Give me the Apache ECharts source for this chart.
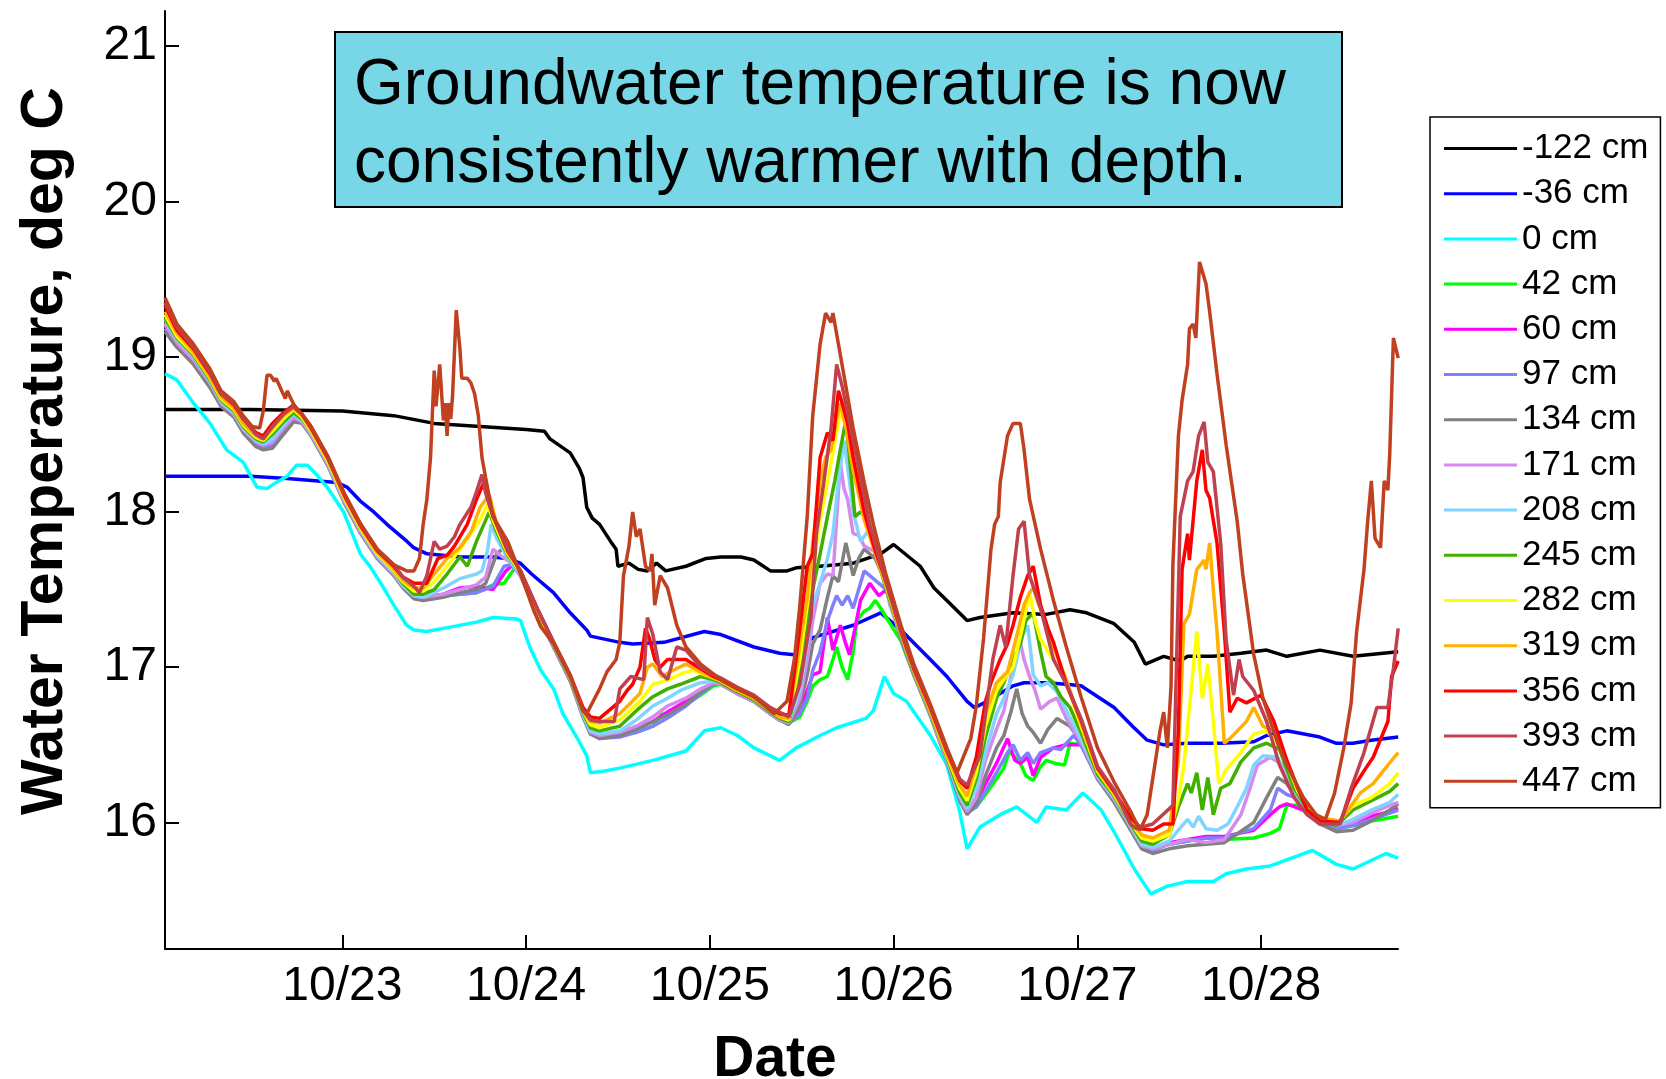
<!DOCTYPE html>
<html>
<head>
<meta charset="utf-8">
<title>Groundwater temperature by depth</title>
<script src="https://cdn.jsdelivr.net/npm/echarts@6/dist/echarts.min.js"></script>
<style>
  html, body { margin: 0; padding: 0; background: #ffffff; }
  #chart { width: 1666px; height: 1079px; }
</style>
</head>
<body>
<div id="chart"></div>
<script>
// Logger depths (cm) and tick labels
const depthNames = ['-122 cm', '-36 cm', '0 cm', '42 cm', '60 cm', '97 cm', '134 cm', '171 cm',
  '208 cm', '245 cm', '282 cm', '319 cm', '356 cm', '393 cm', '447 cm'];
const dayTicks = [1, 2, 3, 4, 5, 6];
const dayLabels = ['10/23', '10/24', '10/25', '10/26', '10/27', '10/28'];
const tempTicks = [16, 17, 18, 19, 20, 21];

// Water temperature records: [days since 10/22 00:00, deg C]
const tempM122 = [[0.035,18.66],[0.5,18.66],[1.0,18.65],[1.28,18.62],[1.5,18.57],[1.75,18.55],[2.0,18.53],[2.1,18.52],[2.13,18.47],[2.24,18.38],[2.29,18.28],[2.31,18.22],[2.33,18.03],[2.36,17.96],[2.40,17.92],[2.46,17.81],[2.49,17.76],[2.50,17.65],[2.56,17.67],[2.61,17.63],[2.66,17.62],[2.71,17.67],[2.76,17.62],[2.87,17.65],[2.98,17.70],[3.06,17.71],[3.17,17.71],[3.24,17.69],[3.33,17.62],[3.42,17.62],[3.47,17.64],[3.6,17.65],[3.78,17.67],[3.93,17.73],[4.0,17.79],[4.145,17.65],[4.22,17.51],[4.29,17.43],[4.40,17.30],[4.47,17.32],[4.65,17.35],[4.83,17.34],[4.96,17.37],[5.05,17.35],[5.2,17.28],[5.31,17.16],[5.37,17.02],[5.47,17.07],[5.56,17.04],[5.6,17.07],[5.74,17.07],[5.89,17.09],[6.03,17.11],[6.14,17.07],[6.32,17.11],[6.5,17.07],[6.746,17.10]];

const tempM36 = [[0.035,18.23],[0.5,18.23],[0.7,18.215],[0.97,18.19],[1.025,18.16],[1.098,18.07],[1.171,18.00],[1.243,17.92],[1.352,17.81],[1.388,17.77],[1.461,17.73],[1.642,17.71],[1.82,17.71],[1.897,17.70],[1.969,17.67],[2.03,17.60],[2.149,17.48],[2.24,17.35],[2.33,17.24],[2.35,17.20],[2.51,17.16],[2.58,17.15],[2.75,17.16],[2.97,17.23],[3.06,17.21],[3.24,17.13],[3.38,17.09],[3.46,17.08],[3.56,17.19],[3.78,17.27],[3.93,17.35],[4.04,17.24],[4.2,17.05],[4.29,16.94],[4.40,16.78],[4.44,16.74],[4.51,16.78],[4.65,16.88],[4.71,16.90],[4.83,16.90],[4.94,16.89],[5.02,16.88],[5.2,16.74],[5.30,16.62],[5.38,16.53],[5.47,16.50],[5.6,16.51],[5.78,16.51],[5.96,16.52],[6.03,16.56],[6.14,16.59],[6.32,16.55],[6.41,16.51],[6.5,16.51],[6.6,16.53],[6.746,16.55]];

const temp0 = [[0.035,18.89],[0.10,18.85],[0.19,18.70],[0.28,18.57],[0.37,18.40],[0.46,18.32],[0.535,18.16],[0.59,18.15],[0.64,18.19],[0.70,18.23],[0.75,18.30],[0.81,18.30],[0.86,18.24],[0.917,18.16],[1.007,18.00],[1.098,17.73],[1.15,17.65],[1.21,17.54],[1.28,17.40],[1.35,17.27],[1.39,17.24],[1.46,17.23],[1.55,17.25],[1.73,17.29],[1.82,17.32],[1.95,17.31],[1.97,17.30],[2.02,17.13],[2.08,16.98],[2.15,16.86],[2.20,16.70],[2.28,16.54],[2.33,16.43],[2.35,16.32],[2.42,16.33],[2.51,16.35],[2.69,16.40],[2.87,16.46],[2.97,16.59],[3.06,16.61],[3.15,16.56],[3.24,16.48],[3.38,16.40],[3.47,16.48],[3.60,16.56],[3.69,16.61],[3.85,16.67],[3.89,16.72],[3.95,16.94],[4.0,16.83],[4.07,16.78],[4.2,16.56],[4.29,16.37],[4.36,16.07],[4.40,15.83],[4.47,15.97],[4.58,16.05],[4.67,16.10],[4.78,16.00],[4.83,16.10],[4.94,16.08],[5.03,16.19],[5.13,16.08],[5.2,15.94],[5.31,15.70],[5.40,15.54],[5.49,15.59],[5.60,15.62],[5.74,15.62],[5.81,15.67],[5.92,15.70],[6.05,15.72],[6.28,15.82],[6.41,15.73],[6.5,15.70],[6.68,15.80],[6.746,15.77]];

const temp42 = [[0.035,19.22],[0.10,19.10],[0.19,18.99],[0.28,18.84],[0.34,18.71],[0.41,18.64],[0.46,18.54],[0.53,18.45],[0.57,18.43],[0.62,18.45],[0.68,18.54],[0.735,18.62],[0.78,18.59],[0.83,18.51],[0.92,18.32],[1.01,18.08],[1.10,17.88],[1.19,17.72],[1.28,17.61],[1.33,17.53],[1.39,17.46],[1.44,17.45],[1.55,17.46],[1.64,17.47],[1.73,17.48],[1.82,17.53],[1.88,17.54],[1.91,17.59],[1.94,17.64],[1.97,17.59],[2.06,17.35],[2.15,17.13],[2.24,16.92],[2.31,16.68],[2.35,16.57],[2.40,16.55],[2.51,16.56],[2.60,16.58],[2.69,16.62],[2.74,16.70],[2.78,16.68],[2.87,16.76],[2.95,16.82],[3.02,16.88],[3.06,16.89],[3.15,16.83],[3.24,16.78],[3.33,16.70],[3.38,16.66],[3.43,16.64],[3.49,16.68],[3.53,16.78],[3.56,16.88],[3.60,16.92],[3.64,16.94],[3.67,17.05],[3.69,17.13],[3.72,17.00],[3.75,16.92],[3.78,17.10],[3.80,17.30],[3.84,17.36],[3.87,17.38],[3.90,17.43],[3.93,17.38],[3.96,17.32],[4.04,17.17],[4.11,16.95],[4.20,16.69],[4.29,16.40],[4.36,16.16],[4.40,16.08],[4.45,16.10],[4.50,16.18],[4.56,16.28],[4.60,16.35],[4.63,16.46],[4.66,16.42],[4.69,16.38],[4.72,16.30],[4.76,16.27],[4.80,16.36],[4.83,16.40],[4.88,16.38],[4.93,16.37],[4.96,16.51],[5.02,16.50],[5.11,16.29],[5.20,16.15],[5.29,15.97],[5.35,15.86],[5.41,15.83],[5.50,15.86],[5.60,15.88],[5.70,15.90],[5.80,15.89],[5.96,15.90],[6.05,15.93],[6.10,15.96],[6.14,16.11],[6.25,16.11],[6.32,16.02],[6.41,15.96],[6.50,15.98],[6.60,16.01],[6.70,16.03],[6.746,16.04]];

const temp60 = [[0.035,19.20],[0.10,19.08],[0.19,18.98],[0.28,18.83],[0.34,18.70],[0.41,18.63],[0.46,18.53],[0.53,18.45],[0.57,18.43],[0.62,18.44],[0.68,18.53],[0.735,18.61],[0.78,18.58],[0.83,18.50],[0.92,18.31],[1.01,18.07],[1.10,17.87],[1.19,17.72],[1.28,17.60],[1.33,17.53],[1.39,17.46],[1.44,17.45],[1.55,17.47],[1.64,17.51],[1.73,17.52],[1.82,17.50],[1.89,17.62],[1.93,17.66],[1.97,17.59],[2.06,17.35],[2.15,17.13],[2.24,16.92],[2.31,16.70],[2.35,16.59],[2.40,16.55],[2.51,16.57],[2.60,16.60],[2.69,16.65],[2.78,16.72],[2.87,16.78],[2.95,16.85],[3.02,16.90],[3.06,16.89],[3.15,16.83],[3.24,16.78],[3.33,16.70],[3.38,16.66],[3.43,16.64],[3.49,16.72],[3.53,16.85],[3.56,16.95],[3.60,16.97],[3.64,17.32],[3.67,17.11],[3.71,17.27],[3.74,17.15],[3.76,17.08],[3.79,17.25],[3.82,17.43],[3.87,17.54],[3.92,17.46],[3.96,17.50],[4.04,17.19],[4.11,16.96],[4.20,16.70],[4.29,16.40],[4.36,16.16],[4.40,16.07],[4.45,16.12],[4.50,16.25],[4.56,16.38],[4.62,16.54],[4.66,16.40],[4.69,16.38],[4.73,16.42],[4.76,16.30],[4.80,16.42],[4.87,16.48],[4.94,16.50],[5.02,16.50],[5.11,16.29],[5.20,16.15],[5.29,15.97],[5.35,15.86],[5.41,15.84],[5.50,15.87],[5.60,15.89],[5.70,15.91],[5.80,15.91],[5.96,15.95],[6.05,16.05],[6.10,16.10],[6.14,16.12],[6.25,16.07],[6.32,16.01],[6.41,15.97],[6.50,15.99],[6.60,16.04],[6.70,16.07],[6.746,16.09]];

const temp97 = [[0.035,19.18],[0.10,19.08],[0.19,18.97],[0.28,18.82],[0.34,18.70],[0.41,18.62],[0.46,18.52],[0.53,18.44],[0.57,18.42],[0.62,18.43],[0.68,18.52],[0.735,18.60],[0.78,18.58],[0.83,18.50],[0.92,18.31],[1.01,18.07],[1.10,17.87],[1.19,17.71],[1.28,17.60],[1.33,17.52],[1.39,17.45],[1.44,17.44],[1.55,17.46],[1.64,17.47],[1.73,17.48],[1.82,17.52],[1.88,17.65],[1.92,17.66],[1.97,17.59],[2.06,17.35],[2.15,17.13],[2.24,16.92],[2.31,16.70],[2.35,16.58],[2.40,16.54],[2.51,16.55],[2.60,16.58],[2.69,16.62],[2.78,16.68],[2.87,16.75],[2.95,16.83],[3.02,16.89],[3.06,16.89],[3.15,16.83],[3.24,16.78],[3.33,16.70],[3.38,16.66],[3.43,16.64],[3.49,16.70],[3.53,16.80],[3.56,16.98],[3.60,17.10],[3.64,17.30],[3.67,17.40],[3.69,17.46],[3.72,17.40],[3.75,17.46],[3.78,17.38],[3.81,17.50],[3.84,17.62],[3.88,17.58],[3.92,17.54],[3.96,17.50],[4.04,17.19],[4.11,16.96],[4.20,16.70],[4.29,16.40],[4.36,16.15],[4.40,16.06],[4.45,16.10],[4.50,16.20],[4.56,16.32],[4.62,16.45],[4.65,16.50],[4.69,16.40],[4.73,16.45],[4.76,16.38],[4.80,16.45],[4.87,16.48],[4.91,16.47],[4.98,16.56],[5.02,16.50],[5.11,16.28],[5.20,16.14],[5.29,15.96],[5.35,15.84],[5.41,15.82],[5.50,15.86],[5.60,15.88],[5.70,15.90],[5.80,15.90],[5.96,15.96],[6.05,16.08],[6.09,16.22],[6.14,16.18],[6.21,16.15],[6.27,16.05],[6.32,15.99],[6.41,15.96],[6.50,15.98],[6.60,16.02],[6.70,16.06],[6.746,16.08]];

const temp134 = [[0.035,19.16],[0.10,19.06],[0.19,18.95],[0.28,18.80],[0.34,18.68],[0.41,18.61],[0.46,18.51],[0.53,18.42],[0.57,18.40],[0.62,18.41],[0.68,18.50],[0.735,18.58],[0.78,18.57],[0.83,18.49],[0.92,18.30],[1.01,18.06],[1.10,17.86],[1.19,17.70],[1.28,17.59],[1.33,17.51],[1.39,17.44],[1.44,17.43],[1.55,17.45],[1.64,17.48],[1.73,17.50],[1.78,17.54],[1.84,17.73],[1.88,17.77],[1.92,17.70],[1.97,17.59],[2.06,17.35],[2.15,17.13],[2.24,16.91],[2.31,16.68],[2.35,16.57],[2.40,16.54],[2.51,16.56],[2.60,16.60],[2.69,16.65],[2.78,16.70],[2.87,16.76],[2.95,16.84],[3.02,16.90],[3.06,16.89],[3.15,16.83],[3.24,16.78],[3.33,16.70],[3.38,16.66],[3.43,16.63],[3.49,16.75],[3.53,16.95],[3.56,17.15],[3.60,17.24],[3.64,17.45],[3.67,17.59],[3.70,17.55],[3.74,17.80],[3.78,17.59],[3.81,17.70],[3.84,17.76],[3.90,17.70],[3.96,17.54],[4.04,17.18],[4.11,16.95],[4.20,16.69],[4.29,16.39],[4.36,16.14],[4.40,16.05],[4.45,16.12],[4.50,16.30],[4.56,16.48],[4.60,16.56],[4.64,16.72],[4.67,16.86],[4.70,16.70],[4.73,16.62],[4.76,16.58],[4.80,16.51],[4.84,16.60],[4.89,16.67],[4.96,16.62],[5.02,16.52],[5.11,16.28],[5.20,16.13],[5.29,15.95],[5.35,15.83],[5.41,15.80],[5.50,15.83],[5.60,15.85],[5.70,15.86],[5.80,15.87],[5.96,16.00],[6.03,16.16],[6.09,16.29],[6.14,16.25],[6.21,16.13],[6.27,16.04],[6.32,15.99],[6.41,15.94],[6.50,15.95],[6.60,16.01],[6.70,16.08],[6.746,16.12]];

const temp171 = [[0.035,19.21],[0.10,19.09],[0.19,18.98],[0.28,18.83],[0.34,18.70],[0.41,18.63],[0.46,18.53],[0.53,18.45],[0.57,18.43],[0.62,18.45],[0.68,18.54],[0.735,18.61],[0.78,18.58],[0.83,18.50],[0.92,18.31],[1.01,18.07],[1.10,17.87],[1.19,17.71],[1.28,17.60],[1.33,17.52],[1.39,17.46],[1.44,17.45],[1.55,17.47],[1.64,17.50],[1.73,17.53],[1.78,17.58],[1.82,17.76],[1.86,17.72],[1.92,17.67],[1.97,17.59],[2.06,17.35],[2.15,17.13],[2.24,16.92],[2.31,16.69],[2.35,16.58],[2.40,16.56],[2.51,16.58],[2.60,16.62],[2.69,16.68],[2.77,16.75],[2.87,16.80],[2.95,16.86],[3.02,16.90],[3.06,16.89],[3.15,16.83],[3.24,16.78],[3.33,16.70],[3.38,16.66],[3.43,16.64],[3.49,16.80],[3.53,17.05],[3.56,17.30],[3.60,17.54],[3.64,17.60],[3.67,17.59],[3.69,17.95],[3.71,18.32],[3.73,18.15],[3.75,18.08],[3.78,17.86],[3.81,17.85],[3.84,17.78],[3.89,17.75],[3.94,17.65],[3.98,17.40],[4.04,17.20],[4.11,16.96],[4.20,16.70],[4.29,16.40],[4.36,16.16],[4.40,16.07],[4.45,16.16],[4.50,16.40],[4.56,16.60],[4.60,16.72],[4.64,16.95],[4.69,17.16],[4.71,17.05],[4.74,16.94],[4.77,16.85],[4.80,16.73],[4.85,16.78],[4.89,16.80],[4.94,16.67],[5.02,16.52],[5.11,16.29],[5.20,16.15],[5.29,15.97],[5.35,15.85],[5.41,15.83],[5.50,15.86],[5.60,15.89],[5.70,15.87],[5.80,15.89],[5.89,16.05],[5.94,16.22],[5.98,16.37],[6.05,16.42],[6.12,16.37],[6.18,16.20],[6.25,16.08],[6.32,16.01],[6.41,15.98],[6.50,16.00],[6.60,16.06],[6.70,16.11],[6.746,16.13]];

const temp208 = [[0.035,19.24],[0.10,19.11],[0.19,19.00],[0.28,18.84],[0.34,18.71],[0.41,18.64],[0.46,18.54],[0.53,18.46],[0.57,18.44],[0.62,18.47],[0.68,18.56],[0.735,18.63],[0.78,18.59],[0.83,18.51],[0.92,18.32],[1.01,18.08],[1.10,17.88],[1.19,17.72],[1.28,17.61],[1.33,17.53],[1.39,17.46],[1.44,17.45],[1.55,17.51],[1.64,17.57],[1.73,17.60],[1.76,17.62],[1.79,17.75],[1.81,17.92],[1.84,17.83],[1.90,17.70],[1.97,17.60],[2.06,17.36],[2.15,17.14],[2.24,16.93],[2.31,16.70],[2.35,16.59],[2.40,16.57],[2.51,16.59],[2.60,16.66],[2.69,16.75],[2.77,16.80],[2.84,16.85],[2.95,16.90],[3.02,16.91],[3.06,16.90],[3.15,16.84],[3.24,16.79],[3.33,16.71],[3.38,16.67],[3.43,16.65],[3.49,16.85],[3.53,17.15],[3.56,17.40],[3.60,17.54],[3.64,17.70],[3.67,17.86],[3.70,18.20],[3.73,18.46],[3.76,18.20],[3.78,18.00],[3.82,17.81],[3.87,17.89],[3.92,17.72],[3.98,17.42],[4.04,17.21],[4.11,16.97],[4.20,16.71],[4.29,16.41],[4.36,16.17],[4.40,16.09],[4.45,16.22],[4.50,16.45],[4.56,16.70],[4.60,16.80],[4.65,16.95],[4.70,17.20],[4.73,17.27],[4.76,16.95],[4.80,16.88],[4.84,16.90],[4.89,16.84],[4.94,16.72],[5.02,16.54],[5.11,16.30],[5.20,16.16],[5.29,15.98],[5.35,15.86],[5.41,15.84],[5.50,15.88],[5.55,15.95],[5.60,16.02],[5.63,15.97],[5.66,16.04],[5.70,15.96],[5.76,15.95],[5.82,15.99],[5.87,16.10],[5.92,16.22],[5.96,16.37],[6.01,16.43],[6.09,16.42],[6.14,16.28],[6.20,16.14],[6.27,16.05],[6.32,16.01],[6.41,15.98],[6.50,16.02],[6.60,16.08],[6.70,16.13],[6.746,16.18]];

const temp245 = [[0.035,19.25],[0.10,19.12],[0.19,19.01],[0.28,18.85],[0.34,18.72],[0.41,18.65],[0.46,18.55],[0.53,18.47],[0.57,18.45],[0.62,18.50],[0.68,18.58],[0.735,18.64],[0.78,18.60],[0.83,18.52],[0.92,18.33],[1.01,18.09],[1.10,17.89],[1.19,17.73],[1.28,17.62],[1.33,17.54],[1.39,17.47],[1.44,17.47],[1.50,17.50],[1.57,17.60],[1.64,17.71],[1.68,17.65],[1.73,17.81],[1.80,18.00],[1.83,17.90],[1.90,17.72],[1.97,17.61],[2.06,17.36],[2.15,17.14],[2.24,16.93],[2.31,16.71],[2.35,16.61],[2.40,16.59],[2.51,16.62],[2.60,16.72],[2.69,16.81],[2.77,16.86],[2.84,16.89],[2.95,16.94],[3.02,16.92],[3.06,16.90],[3.15,16.84],[3.24,16.79],[3.33,16.71],[3.38,16.67],[3.43,16.65],[3.49,16.95],[3.53,17.30],[3.56,17.50],[3.60,17.73],[3.64,17.97],[3.68,18.20],[3.71,18.40],[3.74,18.59],[3.76,18.35],[3.79,17.97],[3.82,18.00],[3.86,17.95],[3.90,17.75],[3.96,17.50],[4.04,17.21],[4.11,16.97],[4.20,16.71],[4.29,16.42],[4.36,16.19],[4.40,16.11],[4.45,16.28],[4.50,16.55],[4.56,16.80],[4.60,16.90],[4.65,17.05],[4.69,17.15],[4.72,17.30],[4.76,17.35],[4.80,17.10],[4.83,16.94],[4.87,16.90],[4.91,16.81],[4.96,16.74],[5.02,16.58],[5.11,16.31],[5.20,16.17],[5.29,15.99],[5.35,15.88],[5.41,15.86],[5.50,15.92],[5.55,16.10],[5.60,16.25],[5.62,16.19],[5.65,16.32],[5.68,16.08],[5.71,16.29],[5.74,16.05],[5.78,16.22],[5.83,16.25],[5.89,16.39],[5.96,16.48],[6.03,16.51],[6.10,16.47],[6.18,16.22],[6.25,16.09],[6.32,16.01],[6.41,15.98],[6.50,16.08],[6.60,16.14],[6.70,16.20],[6.746,16.25]];

const temp282 = [[0.035,19.27],[0.10,19.13],[0.19,19.02],[0.28,18.86],[0.34,18.73],[0.41,18.66],[0.46,18.56],[0.53,18.48],[0.57,18.46],[0.62,18.52],[0.68,18.60],[0.735,18.66],[0.78,18.61],[0.83,18.52],[0.92,18.33],[1.01,18.09],[1.10,17.89],[1.19,17.73],[1.28,17.62],[1.33,17.55],[1.39,17.49],[1.44,17.49],[1.50,17.55],[1.57,17.65],[1.64,17.76],[1.70,17.86],[1.75,17.95],[1.79,18.05],[1.83,17.92],[1.90,17.73],[1.97,17.61],[2.06,17.37],[2.15,17.15],[2.24,16.94],[2.31,16.72],[2.35,16.63],[2.40,16.61],[2.51,16.66],[2.62,16.78],[2.69,16.89],[2.78,16.92],[2.85,16.96],[2.91,16.98],[3.02,16.93],[3.06,16.91],[3.15,16.85],[3.24,16.80],[3.33,16.72],[3.38,16.68],[3.43,16.66],[3.49,17.05],[3.53,17.40],[3.56,17.62],[3.60,17.95],[3.64,18.19],[3.68,18.45],[3.71,18.65],[3.74,18.55],[3.78,18.40],[3.84,18.00],[3.87,17.88],[3.92,17.68],[3.96,17.52],[4.04,17.22],[4.11,16.98],[4.20,16.72],[4.29,16.43],[4.36,16.22],[4.40,16.14],[4.45,16.32],[4.50,16.62],[4.56,16.85],[4.60,16.92],[4.65,17.00],[4.70,17.25],[4.74,17.48],[4.77,17.30],[4.80,17.18],[4.84,17.10],[4.87,17.05],[4.94,16.90],[5.02,16.62],[5.11,16.33],[5.20,16.18],[5.29,16.00],[5.35,15.90],[5.41,15.88],[5.50,15.92],[5.55,16.15],[5.58,16.37],[5.61,16.74],[5.65,17.23],[5.68,16.80],[5.71,17.02],[5.74,16.65],[5.77,16.25],[5.81,16.34],[5.89,16.45],[5.96,16.57],[6.03,16.59],[6.09,16.51],[6.14,16.38],[6.20,16.20],[6.27,16.07],[6.32,16.02],[6.41,15.99],[6.50,16.11],[6.60,16.16],[6.70,16.25],[6.746,16.32]];

const temp319 = [[0.035,19.29],[0.10,19.15],[0.19,19.03],[0.28,18.87],[0.34,18.74],[0.41,18.67],[0.46,18.57],[0.53,18.49],[0.57,18.47],[0.62,18.54],[0.68,18.62],[0.735,18.67],[0.78,18.62],[0.83,18.53],[0.92,18.34],[1.01,18.10],[1.10,17.90],[1.19,17.74],[1.28,17.63],[1.33,17.56],[1.39,17.51],[1.44,17.51],[1.50,17.60],[1.57,17.70],[1.64,17.77],[1.70,17.87],[1.75,18.03],[1.80,18.11],[1.84,17.92],[1.90,17.74],[1.97,17.62],[2.06,17.37],[2.15,17.15],[2.24,16.94],[2.31,16.73],[2.35,16.65],[2.40,16.64],[2.51,16.70],[2.62,16.83],[2.66,17.00],[2.69,17.02],[2.74,16.94],[2.80,16.98],[2.87,17.02],[2.95,16.97],[3.02,16.93],[3.06,16.91],[3.15,16.85],[3.24,16.80],[3.33,16.72],[3.38,16.68],[3.43,16.67],[3.49,17.15],[3.53,17.45],[3.56,17.80],[3.60,18.19],[3.63,18.35],[3.66,18.40],[3.69,18.60],[3.71,18.70],[3.74,18.55],[3.78,18.27],[3.84,17.95],[3.92,17.66],[3.96,17.53],[4.04,17.22],[4.11,16.98],[4.20,16.72],[4.29,16.44],[4.36,16.24],[4.40,16.17],[4.45,16.38],[4.50,16.70],[4.56,16.90],[4.62,16.97],[4.67,17.20],[4.71,17.40],[4.74,17.48],[4.76,17.51],[4.79,17.40],[4.82,17.32],[4.87,17.13],[4.94,16.92],[5.02,16.64],[5.11,16.34],[5.20,16.19],[5.29,16.01],[5.35,15.92],[5.41,15.90],[5.50,15.95],[5.55,16.40],[5.58,17.28],[5.61,17.34],[5.65,17.63],[5.69,17.69],[5.70,17.63],[5.72,17.80],[5.74,17.50],[5.76,17.23],[5.80,16.51],[5.83,16.54],[5.92,16.65],[5.96,16.74],[6.01,16.62],[6.07,16.59],[6.14,16.40],[6.20,16.22],[6.27,16.08],[6.32,16.03],[6.43,16.01],[6.54,16.19],[6.61,16.25],[6.69,16.37],[6.746,16.45]];

const temp356 = [[0.035,19.33],[0.10,19.17],[0.19,19.05],[0.28,18.89],[0.34,18.76],[0.41,18.69],[0.46,18.60],[0.53,18.51],[0.57,18.49],[0.62,18.57],[0.68,18.64],[0.735,18.69],[0.78,18.63],[0.83,18.54],[0.92,18.35],[1.01,18.11],[1.10,17.91],[1.19,17.75],[1.28,17.65],[1.33,17.58],[1.39,17.54],[1.44,17.54],[1.46,17.54],[1.52,17.70],[1.57,17.72],[1.61,17.78],[1.68,17.92],[1.73,18.08],[1.77,18.19],[1.80,18.05],[1.84,17.92],[1.90,17.75],[1.97,17.62],[2.06,17.38],[2.15,17.16],[2.24,16.95],[2.31,16.74],[2.35,16.68],[2.40,16.67],[2.51,16.78],[2.55,16.85],[2.58,16.89],[2.62,17.00],[2.65,17.25],[2.67,17.19],[2.70,17.05],[2.73,17.00],[2.77,17.05],[2.80,17.05],[2.87,17.05],[2.95,16.99],[3.02,16.94],[3.06,16.92],[3.15,16.86],[3.24,16.81],[3.33,16.73],[3.38,16.70],[3.43,16.69],[3.49,17.25],[3.53,17.65],[3.56,17.73],[3.60,18.35],[3.64,18.51],[3.67,18.46],[3.70,18.78],[3.72,18.70],[3.75,18.57],[3.78,18.35],[3.84,18.00],[3.90,17.75],[3.96,17.55],[4.04,17.23],[4.11,16.99],[4.20,16.74],[4.29,16.46],[4.36,16.27],[4.40,16.22],[4.45,16.42],[4.50,16.78],[4.53,16.90],[4.58,17.05],[4.62,17.15],[4.65,17.27],[4.69,17.45],[4.73,17.59],[4.76,17.65],[4.80,17.40],[4.84,17.25],[4.87,17.16],[4.94,16.89],[5.02,16.66],[5.11,16.35],[5.20,16.20],[5.29,16.03],[5.35,15.96],[5.41,15.95],[5.47,15.99],[5.52,15.99],[5.55,16.60],[5.57,17.63],[5.60,17.86],[5.61,17.69],[5.65,18.20],[5.68,18.40],[5.70,18.14],[5.72,18.09],[5.76,17.80],[5.80,17.23],[5.83,16.71],[5.87,16.80],[5.92,16.77],[6.00,16.82],[6.07,16.65],[6.14,16.40],[6.20,16.22],[6.25,16.08],[6.32,16.01],[6.43,16.00],[6.50,16.22],[6.57,16.35],[6.61,16.42],[6.69,16.65],[6.71,16.94],[6.746,17.04]];

const temp393 = [[0.035,19.35],[0.10,19.19],[0.19,19.06],[0.28,18.90],[0.34,18.76],[0.41,18.70],[0.46,18.60],[0.53,18.50],[0.57,18.47],[0.62,18.55],[0.68,18.63],[0.735,18.68],[0.78,18.63],[0.83,18.55],[0.92,18.36],[1.01,18.12],[1.10,17.92],[1.19,17.76],[1.28,17.66],[1.33,17.58],[1.39,17.52],[1.42,17.48],[1.46,17.59],[1.50,17.81],[1.53,17.76],[1.57,17.78],[1.61,17.84],[1.64,17.92],[1.70,18.03],[1.73,18.13],[1.76,18.24],[1.78,18.12],[1.82,17.97],[1.90,17.76],[1.97,17.62],[2.06,17.38],[2.15,17.16],[2.24,16.95],[2.31,16.72],[2.35,16.66],[2.40,16.65],[2.48,16.65],[2.51,16.86],[2.57,16.94],[2.64,16.92],[2.66,17.32],[2.69,17.21],[2.73,16.97],[2.77,16.92],[2.82,17.13],[2.87,17.11],[2.95,17.00],[3.02,16.95],[3.06,16.93],[3.15,16.87],[3.24,16.82],[3.33,16.74],[3.38,16.71],[3.43,16.68],[3.49,16.89],[3.55,17.32],[3.58,17.86],[3.62,18.19],[3.66,18.54],[3.69,18.95],[3.72,18.81],[3.78,18.46],[3.87,17.92],[3.96,17.54],[4.04,17.24],[4.11,17.00],[4.20,16.75],[4.29,16.47],[4.36,16.28],[4.40,16.24],[4.47,16.43],[4.54,17.05],[4.58,17.27],[4.61,17.13],[4.65,17.59],[4.68,17.89],[4.71,17.94],[4.74,17.59],[4.80,17.38],[4.87,17.05],[4.94,16.89],[5.02,16.67],[5.11,16.36],[5.20,16.21],[5.29,15.99],[5.32,15.96],[5.41,15.99],[5.52,16.11],[5.56,17.97],[5.60,18.20],[5.63,18.26],[5.66,18.49],[5.69,18.58],[5.71,18.32],[5.74,18.26],[5.78,17.80],[5.81,17.17],[5.85,16.82],[5.88,17.05],[5.90,16.94],[5.96,16.85],[6.03,16.65],[6.10,16.37],[6.18,16.16],[6.25,16.05],[6.32,15.99],[6.43,15.99],[6.49,16.22],[6.56,16.45],[6.63,16.74],[6.69,16.74],[6.72,16.99],[6.746,17.25]];

const temp447 = [[0.035,19.38],[0.10,19.21],[0.19,19.08],[0.28,18.92],[0.34,18.78],[0.41,18.71],[0.46,18.62],[0.51,18.55],[0.55,18.54],[0.57,18.65],[0.59,18.88],[0.61,18.88],[0.63,18.84],[0.64,18.86],[0.67,18.78],[0.69,18.73],[0.70,18.78],[0.72,18.73],[0.75,18.66],[0.78,18.63],[0.83,18.55],[0.92,18.36],[1.01,18.12],[1.10,17.92],[1.19,17.76],[1.28,17.66],[1.35,17.62],[1.39,17.62],[1.42,17.70],[1.44,17.92],[1.46,18.08],[1.48,18.35],[1.50,18.91],[1.51,18.68],[1.53,18.95],[1.55,18.59],[1.56,18.70],[1.57,18.49],[1.58,18.70],[1.59,18.60],[1.60,18.75],[1.62,19.30],[1.64,19.05],[1.65,18.86],[1.68,18.86],[1.70,18.83],[1.72,18.76],[1.74,18.62],[1.76,18.35],[1.78,18.22],[1.82,17.97],[1.90,17.81],[1.97,17.60],[2.04,17.37],[2.08,17.26],[2.15,17.15],[2.24,16.94],[2.31,16.72],[2.33,16.70],[2.40,16.86],[2.44,16.97],[2.49,17.05],[2.51,17.16],[2.53,17.59],[2.56,17.78],[2.58,18.00],[2.60,17.84],[2.62,17.89],[2.65,17.65],[2.675,17.62],[2.685,17.73],[2.70,17.40],[2.73,17.59],[2.77,17.51],[2.82,17.27],[2.87,17.13],[2.95,17.02],[3.06,16.92],[3.24,16.81],[3.35,16.70],[3.42,16.78],[3.46,17.05],[3.49,17.40],[3.53,17.97],[3.56,18.62],[3.60,19.08],[3.63,19.28],[3.66,19.22],[3.67,19.28],[3.70,19.08],[3.74,18.81],[3.78,18.54],[3.84,18.19],[3.89,17.92],[3.96,17.59],[4.04,17.27],[4.11,17.02],[4.20,16.76],[4.29,16.48],[4.345,16.32],[4.42,16.54],[4.45,16.75],[4.49,17.19],[4.53,17.76],[4.55,17.92],[4.57,17.97],[4.58,18.19],[4.62,18.49],[4.65,18.57],[4.69,18.57],[4.71,18.40],[4.74,18.08],[4.80,17.76],[4.87,17.43],[4.94,17.13],[5.02,16.81],[5.11,16.48],[5.20,16.26],[5.29,16.07],[5.34,15.95],[5.38,16.05],[5.41,16.28],[5.45,16.59],[5.47,16.71],[5.49,16.48],[5.51,16.88],[5.52,17.66],[5.55,18.49],[5.57,18.72],[5.60,18.95],[5.61,19.18],[5.63,19.21],[5.645,19.12],[5.665,19.61],[5.70,19.47],[5.72,19.29],[5.76,18.89],[5.81,18.43],[5.87,17.94],[5.90,17.60],[5.96,17.08],[6.01,16.80],[6.09,16.51],[6.14,16.37],[6.23,16.16],[6.30,16.05],[6.35,16.02],[6.40,16.19],[6.45,16.48],[6.49,16.77],[6.52,17.23],[6.56,17.63],[6.58,17.94],[6.60,18.20],[6.62,17.83],[6.65,17.77],[6.67,18.20],[6.69,18.14],[6.70,18.37],[6.72,19.12],[6.746,18.99]];

// Line colours, one per depth, in legend order
const lineColors = ['#000000', '#0000ff', '#00ffff', '#00ff00', '#ff00ff', '#8080ff', '#808080',
  '#d58af0', '#80d4ff', '#40b000', '#ffff00', '#ffb000', '#ff0000', '#c0404f', '#c04020'];

const records = [tempM122, tempM36, temp0, temp42, temp60, temp97, temp134, temp171,
  temp208, temp245, temp282, temp319, temp356, temp393, temp447];

const FONT = '"Liberation Sans", Arial, Helvetica, sans-serif';

const chart = echarts.init(document.getElementById('chart'), null, { renderer: 'canvas' });

chart.setOption({
  animation: false,
  backgroundColor: '#ffffff',
  grid: { left: 165, right: 268, top: 11, bottom: 130, containLabel: false },
  xAxis: {
    type: 'value',
    min: 0.035,
    max: 6.745,
    axisLine: { show: true, onZero: false, lineStyle: { color: '#000', width: 2 } },
    axisTick: { show: true, inside: true, length: 14, customValues: dayTicks, lineStyle: { color: '#000', width: 2 } },
    axisLabel: {
      customValues: dayTicks,
      formatter: v => dayLabels[dayTicks.indexOf(Math.round(v))],
      fontSize: 48, color: '#000', fontFamily: FONT, margin: 14
    },
    splitLine: { show: false }
  },
  yAxis: {
    type: 'value',
    min: 15.185,
    max: 21.226,
    axisLine: { show: true, onZero: false, lineStyle: { color: '#000', width: 2 } },
    axisTick: { show: true, inside: true, length: 14, customValues: tempTicks, lineStyle: { color: '#000', width: 2 } },
    axisLabel: {
      customValues: tempTicks,
      formatter: v => String(Math.round(v)),
      fontSize: 48, color: '#000', fontFamily: FONT, margin: 8
    },
    splitLine: { show: false }
  },
  legend: {
    orient: 'vertical',
    left: 1430,
    top: 117,
    padding: [14, 12, 9, 14],
    icon: 'rect',
    itemWidth: 73,
    itemHeight: 3,
    itemGap: 10.2,
    borderColor: '#000',
    borderWidth: 1.5,
    backgroundColor: '#fff',
    textStyle: { fontSize: 35, color: '#000', fontFamily: FONT },
    data: depthNames
  },
  graphic: [
    {
      type: 'rect', z: 100,
      shape: { x: 335, y: 32, width: 1007, height: 175 },
      style: { fill: '#78d7e6', stroke: '#000', lineWidth: 2 }
    },
    {
      type: 'text', z: 101, x: 354, y: 86,
      style: { text: 'Groundwater temperature is now', fontSize: 64, fontFamily: FONT, fill: '#000', verticalAlign: 'middle' }
    },
    {
      type: 'text', z: 101, x: 354, y: 164,
      style: { text: 'consistently warmer with depth.', fontSize: 64, fontFamily: FONT, fill: '#000', verticalAlign: 'middle' }
    },
    {
      type: 'text', z: 101, x: 46, y: 451, rotation: Math.PI / 2,
      style: { text: 'Water Temperature, deg C', fontSize: 59, fontWeight: 'bold', fontFamily: FONT, fill: '#000', align: 'center', verticalAlign: 'middle' }
    },
    {
      type: 'text', z: 101, x: 775, y: 1060,
      style: { text: 'Date', fontSize: 57, fontWeight: 'bold', fontFamily: FONT, fill: '#000', align: 'center', verticalAlign: 'middle' }
    }
  ],
  series: depthNames.map((name, i) => ({
    name: name,
    type: 'line',
    data: records[i],
    symbol: 'none',
    showSymbol: false,
    clip: true,
    lineStyle: { width: 3.5, color: lineColors[i] },
    itemStyle: { color: lineColors[i] },
    emphasis: { disabled: true }
  }))
});
</script>
</body>
</html>
